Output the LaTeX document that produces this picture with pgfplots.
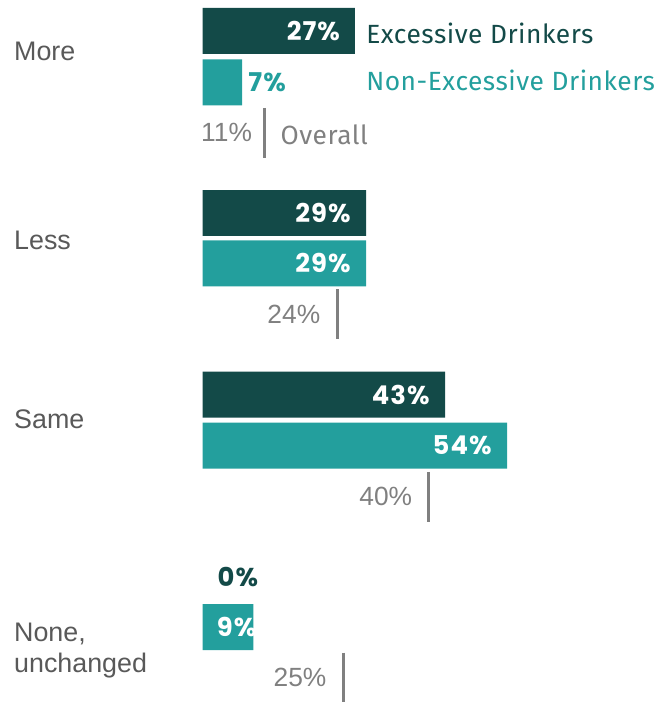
\documentclass[border=0pt]{standalone}
\usepackage{fontspec}
\setmainfont{Liberation Sans}
\newfontfamily\fira[LetterSpace=2]{Fira Sans}
\newfontfamily\valfont[LetterSpace=4]{Poppins Bold}
\usepackage{pgfplots}
\pgfplotsset{compat=1.18}
\definecolor{darkteal}{RGB}{19,74,72}
\definecolor{lightteal}{RGB}{35,159,157}
\definecolor{catgray}{RGB}{89,89,89}
\definecolor{ovgray}{RGB}{128,128,128}
\begin{document}
\begin{tikzpicture}
\begin{axis}[
  scale only axis, width=662bp, height=703bp,
  xmin=-35.929, xmax=81.239, ymin=0, ymax=703, y dir=reverse,
  hide axis, clip=false,
]
\path (rel axis cs:0,0) rectangle (rel axis cs:1,1);
% Excessive drinkers (None, unchanged = 0%: no visible bar)
\addplot[xbar, bar width=46, bar shift=0pt, fill=darkteal, draw=none] coordinates {(27,31) (29,213.5) (43,395.5)};
% Non-excessive drinkers
\addplot[xbar, bar width=46, bar shift=0pt, fill=lightteal, draw=none] coordinates {(7,82.5) (29,264) (54,446.5) (9,628.5)};
% Overall markers
\addplot[ovgray, line width=3bp, no marks] coordinates {(11,108) (11,158)};
\addplot[ovgray, line width=3bp, no marks] coordinates {(24,290) (24,340)};
\addplot[ovgray, line width=3bp, no marks] coordinates {(40,473) (40,523)};
\addplot[ovgray, line width=3bp, no marks] coordinates {(25,654) (25,703)};

% category labels
\tikzset{cat/.style={anchor=west, inner sep=0pt, text=catgray, font=\fontsize{27}{32}\selectfont, align=left}}
\node[cat] at (axis cs:-33.45,52) {More};
\node[cat] at (axis cs:-33.45,241) {Less};
\node[cat] at (axis cs:-33.45,420) {Same};
\node[cat] at (axis cs:-33.45,652) {None,\\unchanged};

% value labels
\tikzset{val/.style={inner sep=0pt, font=\valfont\fontsize{26}{30}\selectfont}}
\node[val, anchor=east, text=white] at (axis cs:24.4,31) {27\%};
\node[val, anchor=west, text=lightteal] at (axis cs:8.1,82.5) {7\%};
\node[val, anchor=east, text=white] at (axis cs:26.3,213.5) {29\%};
\node[val, anchor=east, text=white] at (axis cs:26.3,264) {29\%};
\node[val, anchor=east, text=white] at (axis cs:40.3,395.5) {43\%};
\node[val, anchor=east, text=white] at (axis cs:51.3,446.5) {54\%};
\node[val, anchor=west, text=darkteal] at (axis cs:2.65,578.5) {0\%};
\node[val, anchor=west, text=white] at (axis cs:2.5,628.5) {9\%};

% overall labels
\tikzset{ov/.style={inner sep=0pt, text=ovgray, font=\fontsize{26.5}{30}\selectfont}}
\node[ov, anchor=east] at (axis cs:8.8,133) {11\%};
\node[ov, anchor=east] at (axis cs:20.9,315) {24\%};
\node[ov, anchor=east] at (axis cs:37.2,497) {40\%};
\node[ov, anchor=east] at (axis cs:22,679) {25\%};

% legend labels
\tikzset{leg/.style={anchor=west, inner sep=0pt, font=\fira\fontsize{26.5}{30}\selectfont}}
\node[leg, text=darkteal] at (axis cs:29,33) {Excessive Drinkers};
\node[leg, text=lightteal] at (axis cs:29,81) {Non-Excessive Drinkers};
\node[leg, text=ovgray] at (axis cs:13.8,135) {Overall};
\end{axis}
\end{tikzpicture}
\end{document}
